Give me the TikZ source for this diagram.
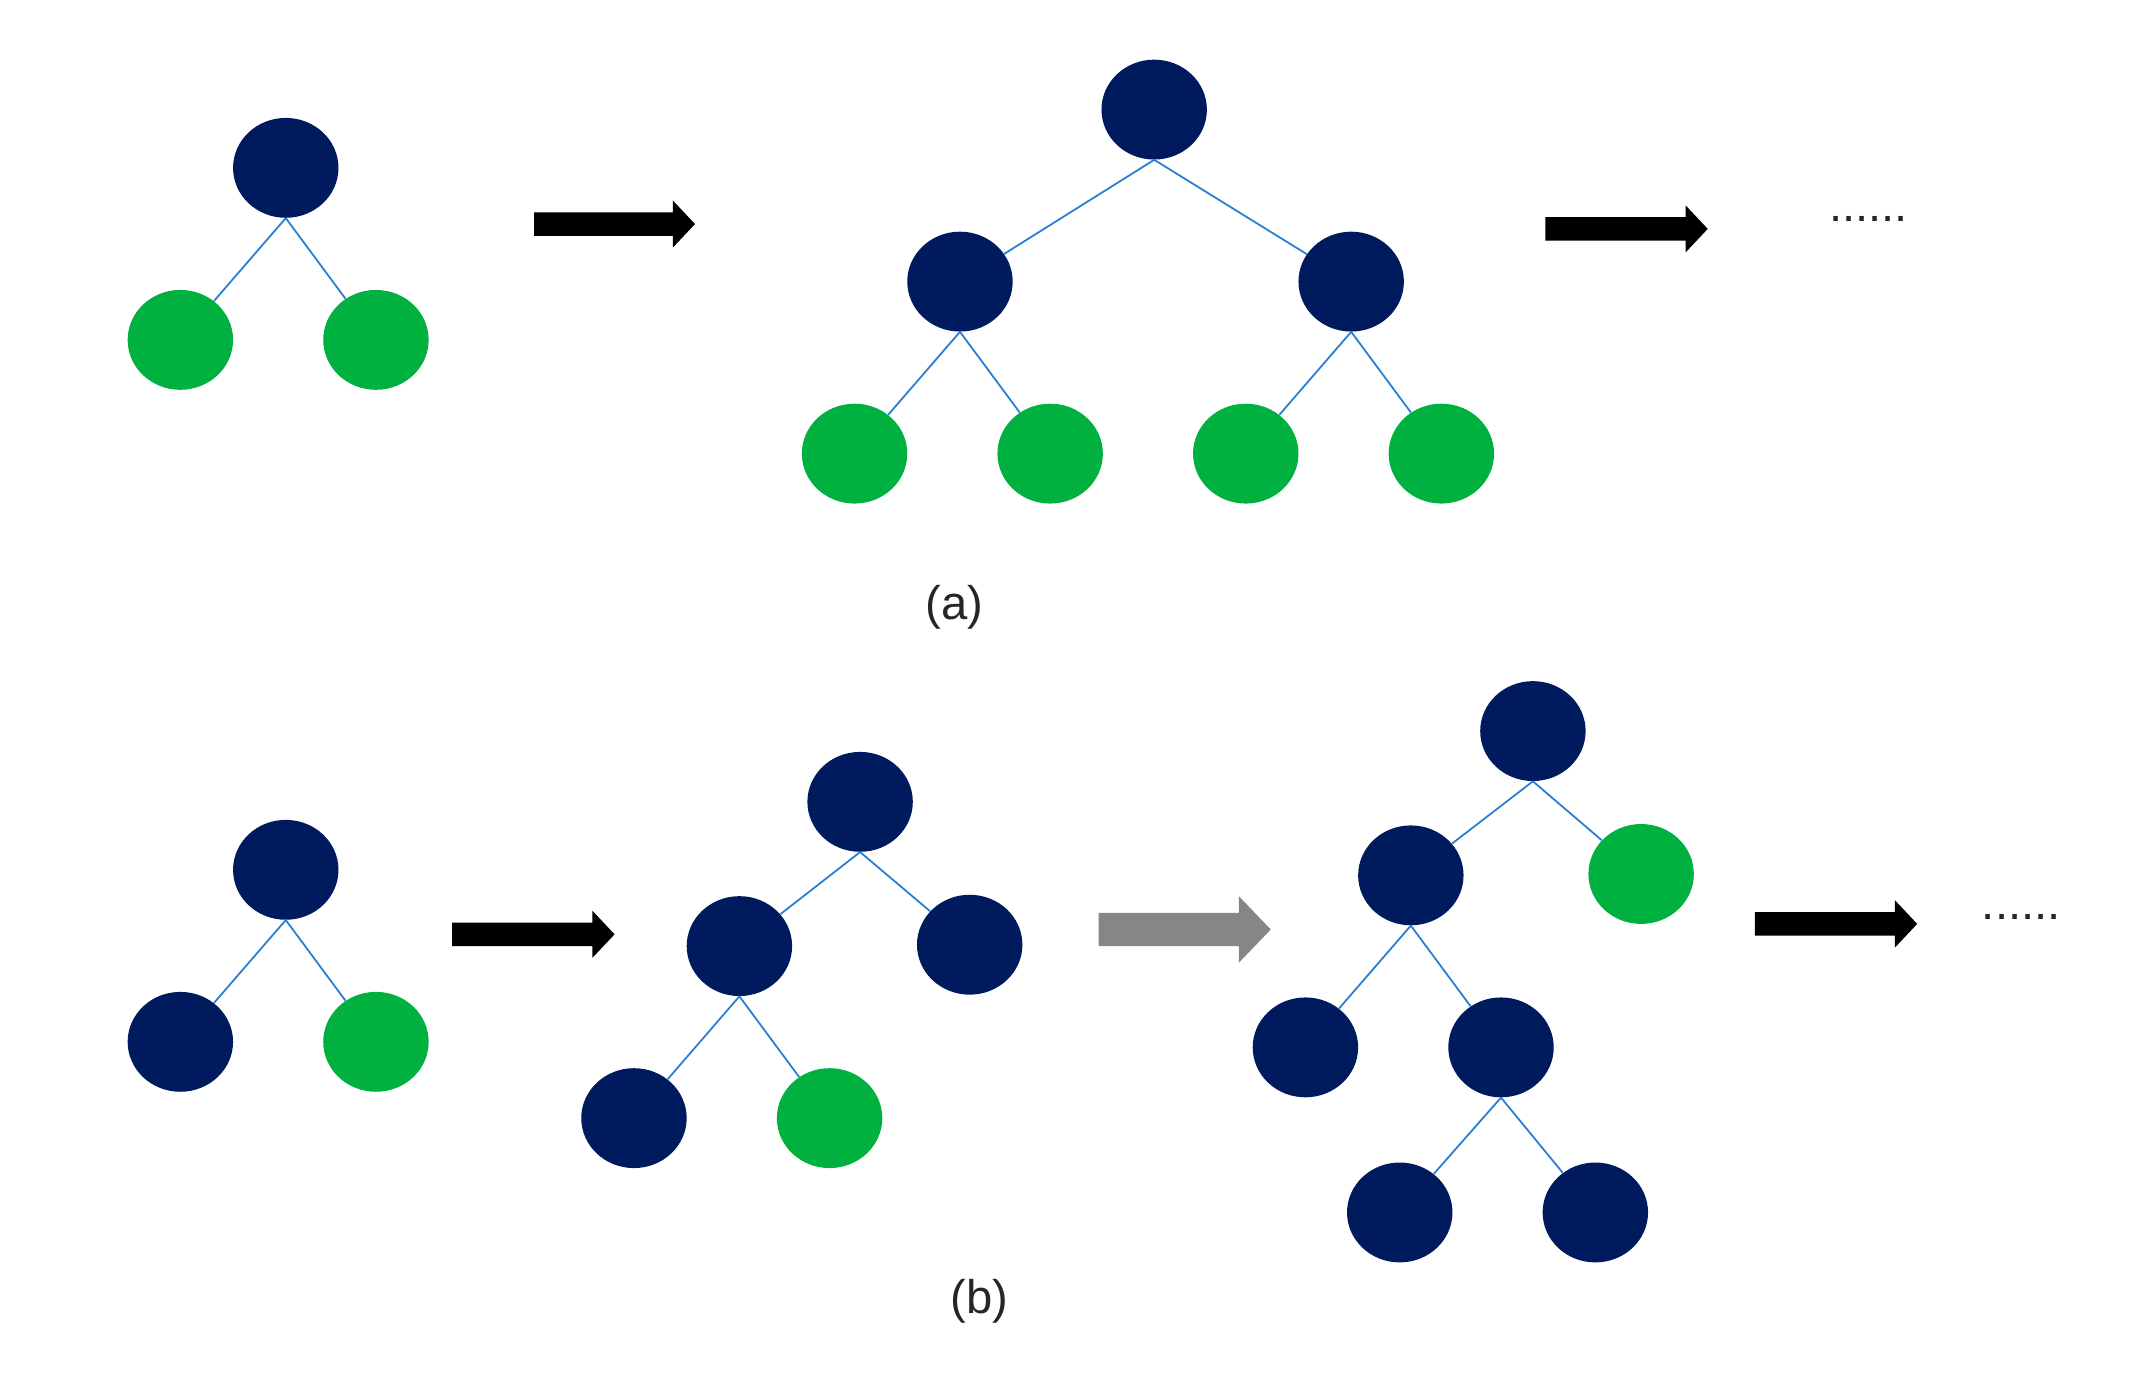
\documentclass[tikz,border=0pt]{standalone}
\usepackage{fontspec}
\setmainfont{Liberation Sans}
\usetikzlibrary{shapes.geometric}
\definecolor{navy}{HTML}{001A5E}
\definecolor{grn}{HTML}{00B140}
\definecolor{edge}{HTML}{2A7FD4}
\begin{document}
\begin{tikzpicture}[x=1pt,y=-1pt,
  nd/.style={ellipse,minimum width=76pt,minimum height=72pt,inner sep=0pt,fill=navy},
  gn/.style={nd,fill=grn},
  ed/.style={draw=edge,line width=1.3pt},
  lab/.style={font=\fontsize{34}{40}\selectfont,text=black!85}]
\useasboundingbox (0,0) rectangle (1552,1009);
\newcommand\barrow[5]{% x1 x2 y halfbar halfhead
  \fill[#5] (#1,#3-8.5) -- (#2-16,#3-8.5) -- (#2-16,#3-17) -- (#2,#3) -- (#2-16,#3+17) -- (#2-16,#3+8.5) -- (#1,#3+8.5) -- cycle;}
% (a)
\node[nd] (a1) at (206,121) {};
\node[gn] (a2) at (130,245) {};
\node[gn] (a3) at (271,245) {};
\draw[ed] (a1.south) -- (a2) (a1.south) -- (a3);
\node[nd] (b1) at (832,79) {};
\node[nd] (b2) at (692,203) {};
\node[nd] (b3) at (974,203) {};
\node[gn] (b4) at (616,327) {};
\node[gn] (b5) at (757,327) {};
\node[gn] (b6) at (898,327) {};
\node[gn] (b7) at (1039,327) {};
\draw[ed] (b1.south) -- (b2) (b1.south) -- (b3)
  (b2.south) -- (b4) (b2.south) -- (b5) (b3.south) -- (b6) (b3.south) -- (b7);
\barrow{385}{501}{161.5}{}{black}
\barrow{1114}{1231}{165}{}{black}
\node[lab] (dA) at (1347,158) {......};
\node[lab] (la) at (688,438) {(a)};
% (b)
\node[nd] (c1) at (206,627) {};
\node[nd] (c2) at (130,751) {};
\node[gn] (c3) at (271,751) {};
\draw[ed] (c1.south) -- (c2) (c1.south) -- (c3);
\barrow{326}{443}{673.5}{}{black}
\node[nd] (d1) at (620,578) {};
\node[nd] (d2) at (533,682) {};
\node[nd] (d3) at (699,681) {};
\node[nd] (d4) at (457,806) {};
\node[gn] (d5) at (598,806) {};
\draw[ed] (d1.south) -- (d2) (d1.south) -- (d3) (d2.south) -- (d4) (d2.south) -- (d5);
\fill[gray!95] (792,658) -- (893,658) -- (893,646) -- (916,670) -- (893,694) -- (893,682) -- (792,682) -- cycle;
\node[nd] (e1) at (1105,527) {};
\node[nd] (e2) at (1017,631) {};
\node[gn] (e3) at (1183,630) {};
\node[nd] (e4) at (941,755) {};
\node[nd] (e5) at (1082,755) {};
\node[nd] (e6) at (1009,874) {};
\node[nd] (e7) at (1150,874) {};
\draw[ed] (e1.south) -- (e2) (e1.south) -- (e3) (e2.south) -- (e4) (e2.south) -- (e5)
  (e5.south) -- (e6) (e5.south) -- (e7);
\barrow{1265}{1382}{666}{}{black}
\node[lab] (dB) at (1457,661) {......};
\node[lab] (lb) at (706,938) {(b)};
\end{tikzpicture}
\end{document}
